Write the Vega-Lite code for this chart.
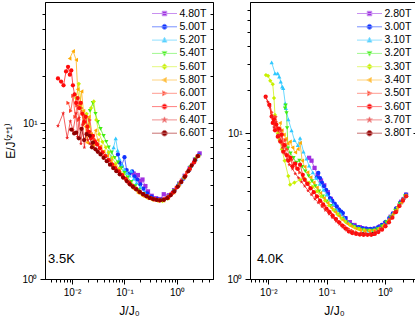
{
"$schema":"https://vega.github.io/schema/vega-lite/v6.json",
"padding":{"left":4,"top":1,"right":0,"bottom":0},
"spacing":12,
"config":{"font":"Liberation Sans","view":{"stroke":"#000","strokeWidth":1},
"axis":{"grid":false,"domainColor":"#000","tickColor":"#000","labelColor":"#000","titleColor":"#000","labelFontSize":10,"titleFontSize":12,"titleFontWeight":"normal","labelOverlap":false,"labelFlush":false,"tickWidth":1,"domainWidth":1},
"legend":{"orient":"top-right","offset":6,"padding":0,"rowPadding":2.3,"labelFontSize":10.5,"labelOffset":9.5,"symbolSize":100,"symbolStrokeWidth":1,"labelColor":"#000"}},
"datasets":{
"LT":[{"x":0.0035,"y":1.34,"t":"3.5K"}],
"RT":[{"x":0.0064,"y":1.37,"t":"4.0K"}],
"L":[
{"s":"4.80T","x":0.15,"y":4.75},{"s":"4.80T","x":0.165,"y":4.55},{"s":"4.80T","x":0.18,"y":4.65},{"s":"4.80T","x":0.2,"y":4.25},{"s":"4.80T","x":0.22,"y":4.35},{"s":"4.80T","x":0.25,"y":3.95},{"s":"4.80T","x":0.28,"y":3.65},{"s":"4.80T","x":0.33,"y":3.42},{"s":"4.80T","x":0.4,"y":3.3},{"s":"4.80T","x":0.48,"y":3.26},{"s":"4.80T","x":0.56,"y":3.5},{"s":"4.80T","x":0.7,"y":3.45},{"s":"4.80T","x":0.88,"y":3.72},{"s":"4.80T","x":1.1,"y":4.1},{"s":"4.80T","x":1.4,"y":4.6},{"s":"4.80T","x":1.75,"y":5.15},{"s":"4.80T","x":2.2,"y":5.85},{"s":"4.80T","x":2.7,"y":6.4},
{"s":"5.00T","x":0.075,"y":6.3},{"s":"5.00T","x":0.08,"y":5.6},{"s":"5.00T","x":0.088,"y":5.3},{"s":"5.00T","x":0.1,"y":6.05},{"s":"5.00T","x":0.11,"y":5.0},{"s":"5.00T","x":0.125,"y":4.75},{"s":"5.00T","x":0.14,"y":4.9},{"s":"5.00T","x":0.155,"y":4.55},{"s":"5.00T","x":0.175,"y":4.35},{"s":"5.00T","x":0.2,"y":4.05},{"s":"5.00T","x":0.23,"y":3.8},{"s":"5.00T","x":0.27,"y":3.55},{"s":"5.00T","x":0.33,"y":3.38},{"s":"5.00T","x":0.42,"y":3.26},{"s":"5.00T","x":0.52,"y":3.23},{"s":"5.00T","x":0.66,"y":3.33},{"s":"5.00T","x":0.83,"y":3.6},{"s":"5.00T","x":1.05,"y":3.98},{"s":"5.00T","x":1.32,"y":4.4},{"s":"5.00T","x":1.7,"y":5.0},{"s":"5.00T","x":2.1,"y":5.6},{"s":"5.00T","x":2.6,"y":6.25},
{"s":"5.20T","x":0.045,"y":6.2},{"s":"5.20T","x":0.05,"y":6.6},{"s":"5.20T","x":0.056,"y":6.0},{"s":"5.20T","x":0.062,"y":7.0},{"s":"5.20T","x":0.068,"y":8.0},{"s":"5.20T","x":0.074,"y":6.7},{"s":"5.20T","x":0.08,"y":5.9},{"s":"5.20T","x":0.09,"y":5.4},{"s":"5.20T","x":0.1,"y":5.05},{"s":"5.20T","x":0.112,"y":4.8},{"s":"5.20T","x":0.125,"y":4.6},{"s":"5.20T","x":0.135,"y":4.95},{"s":"5.20T","x":0.15,"y":4.4},{"s":"5.20T","x":0.17,"y":4.15},{"s":"5.20T","x":0.2,"y":3.9},{"s":"5.20T","x":0.24,"y":3.62},{"s":"5.20T","x":0.29,"y":3.42},{"s":"5.20T","x":0.36,"y":3.29},{"s":"5.20T","x":0.45,"y":3.23},{"s":"5.20T","x":0.57,"y":3.25},{"s":"5.20T","x":0.72,"y":3.45},{"s":"5.20T","x":0.92,"y":3.78},{"s":"5.20T","x":1.15,"y":4.15},{"s":"5.20T","x":1.45,"y":4.65},{"s":"5.20T","x":1.85,"y":5.3},{"s":"5.20T","x":2.3,"y":5.9},
{"s":"5.40T","x":0.022,"y":12.0},{"s":"5.40T","x":0.025,"y":13.5},{"s":"5.40T","x":0.028,"y":11.5},{"s":"5.40T","x":0.031,"y":10.2},{"s":"5.40T","x":0.035,"y":9.2},{"s":"5.40T","x":0.04,"y":8.3},{"s":"5.40T","x":0.045,"y":7.6},{"s":"5.40T","x":0.05,"y":7.0},{"s":"5.40T","x":0.057,"y":6.5},{"s":"5.40T","x":0.065,"y":6.0},{"s":"5.40T","x":0.075,"y":5.6},{"s":"5.40T","x":0.087,"y":5.15},{"s":"5.40T","x":0.1,"y":4.8},{"s":"5.40T","x":0.115,"y":4.5},{"s":"5.40T","x":0.135,"y":4.2},{"s":"5.40T","x":0.16,"y":3.95},{"s":"5.40T","x":0.19,"y":3.72},{"s":"5.40T","x":0.23,"y":3.52},{"s":"5.40T","x":0.28,"y":3.37},{"s":"5.40T","x":0.35,"y":3.26},{"s":"5.40T","x":0.44,"y":3.21},{"s":"5.40T","x":0.55,"y":3.21},{"s":"5.40T","x":0.7,"y":3.38},{"s":"5.40T","x":0.88,"y":3.68},{"s":"5.40T","x":1.1,"y":4.05},{"s":"5.40T","x":1.4,"y":4.55},{"s":"5.40T","x":1.8,"y":5.2},{"s":"5.40T","x":2.3,"y":5.9},
{"s":"5.60T","x":0.012,"y":14.5},{"s":"5.60T","x":0.0135,"y":17.9},{"s":"5.60T","x":0.015,"y":12.5},{"s":"5.60T","x":0.017,"y":10.0},{"s":"5.60T","x":0.019,"y":11.5},{"s":"5.60T","x":0.021,"y":9.5},{"s":"5.60T","x":0.023,"y":12.5},{"s":"5.60T","x":0.026,"y":13.8},{"s":"5.60T","x":0.029,"y":10.5},{"s":"5.60T","x":0.033,"y":8.5},{"s":"5.60T","x":0.038,"y":7.6},{"s":"5.60T","x":0.044,"y":7.0},{"s":"5.60T","x":0.05,"y":6.5},{"s":"5.60T","x":0.058,"y":6.0},{"s":"5.60T","x":0.068,"y":5.5},{"s":"5.60T","x":0.08,"y":5.1},{"s":"5.60T","x":0.095,"y":4.7},{"s":"5.60T","x":0.11,"y":4.4},{"s":"5.60T","x":0.13,"y":4.1},{"s":"5.60T","x":0.155,"y":3.85},{"s":"5.60T","x":0.185,"y":3.64},{"s":"5.60T","x":0.22,"y":3.47},{"s":"5.60T","x":0.27,"y":3.34},{"s":"5.60T","x":0.34,"y":3.24},{"s":"5.60T","x":0.43,"y":3.18},{"s":"5.60T","x":0.53,"y":3.16},{"s":"5.60T","x":0.67,"y":3.28},{"s":"5.60T","x":0.85,"y":3.58},{"s":"5.60T","x":1.07,"y":3.98},{"s":"5.60T","x":1.35,"y":4.45},{"s":"5.60T","x":1.72,"y":5.05},{"s":"5.60T","x":2.2,"y":5.8},{"s":"5.60T","x":2.6,"y":6.2},
{"s":"5.80T","x":0.009,"y":26},{"s":"5.80T","x":0.0105,"y":29},{"s":"5.80T","x":0.012,"y":25.5},{"s":"5.80T","x":0.0128,"y":16.5},{"s":"5.80T","x":0.014,"y":13},{"s":"5.80T","x":0.0152,"y":16},{"s":"5.80T","x":0.0165,"y":12},{"s":"5.80T","x":0.018,"y":9.5},{"s":"5.80T","x":0.0195,"y":7.5},{"s":"5.80T","x":0.021,"y":11},{"s":"5.80T","x":0.023,"y":8.5},{"s":"5.80T","x":0.025,"y":7.2},{"s":"5.80T","x":0.028,"y":9.0},{"s":"5.80T","x":0.031,"y":7.8},{"s":"5.80T","x":0.035,"y":7.1},{"s":"5.80T","x":0.04,"y":6.6},{"s":"5.80T","x":0.047,"y":6.2},{"s":"5.80T","x":0.055,"y":5.75},{"s":"5.80T","x":0.065,"y":5.35},{"s":"5.80T","x":0.077,"y":4.95},{"s":"5.80T","x":0.09,"y":4.6},{"s":"5.80T","x":0.106,"y":4.3},{"s":"5.80T","x":0.125,"y":4.02},{"s":"5.80T","x":0.15,"y":3.78},{"s":"5.80T","x":0.18,"y":3.57},{"s":"5.80T","x":0.22,"y":3.42},{"s":"5.80T","x":0.27,"y":3.3},{"s":"5.80T","x":0.34,"y":3.22},{"s":"5.80T","x":0.43,"y":3.17},{"s":"5.80T","x":0.55,"y":3.18},{"s":"5.80T","x":0.68,"y":3.3},{"s":"5.80T","x":0.86,"y":3.6},{"s":"5.80T","x":1.08,"y":4.0},{"s":"5.80T","x":1.36,"y":4.47},{"s":"5.80T","x":1.72,"y":5.07},{"s":"5.80T","x":2.15,"y":5.7},{"s":"5.80T","x":2.55,"y":6.15},
{"s":"6.00T","x":0.0085,"y":13.5},{"s":"6.00T","x":0.0095,"y":12.0},{"s":"6.00T","x":0.0105,"y":15.0},{"s":"6.00T","x":0.0115,"y":11.0},{"s":"6.00T","x":0.0125,"y":13.0},{"s":"6.00T","x":0.0135,"y":10.5},{"s":"6.00T","x":0.015,"y":12.5},{"s":"6.00T","x":0.0165,"y":9.8},{"s":"6.00T","x":0.018,"y":11.2},{"s":"6.00T","x":0.02,"y":9.0},{"s":"6.00T","x":0.022,"y":10.5},{"s":"6.00T","x":0.024,"y":8.4},{"s":"6.00T","x":0.027,"y":7.9},{"s":"6.00T","x":0.03,"y":7.5},{"s":"6.00T","x":0.034,"y":7.0},{"s":"6.00T","x":0.039,"y":6.5},{"s":"6.00T","x":0.045,"y":6.1},{"s":"6.00T","x":0.052,"y":5.75},{"s":"6.00T","x":0.06,"y":5.45},{"s":"6.00T","x":0.07,"y":5.1},{"s":"6.00T","x":0.082,"y":4.85},{"s":"6.00T","x":0.097,"y":4.55},{"s":"6.00T","x":0.115,"y":4.3},{"s":"6.00T","x":0.137,"y":4.05},{"s":"6.00T","x":0.165,"y":3.82},{"s":"6.00T","x":0.2,"y":3.64},{"s":"6.00T","x":0.25,"y":3.45},{"s":"6.00T","x":0.31,"y":3.32},{"s":"6.00T","x":0.39,"y":3.24},{"s":"6.00T","x":0.5,"y":3.2},{"s":"6.00T","x":0.62,"y":3.28},{"s":"6.00T","x":0.78,"y":3.5},{"s":"6.00T","x":0.98,"y":3.85},{"s":"6.00T","x":1.23,"y":4.3},{"s":"6.00T","x":1.55,"y":4.8},{"s":"6.00T","x":1.95,"y":5.4},{"s":"6.00T","x":2.45,"y":6.1},
{"s":"6.20T","x":0.0054,"y":19.4},{"s":"6.20T","x":0.0062,"y":18.5},{"s":"6.20T","x":0.0069,"y":17.5},{"s":"6.20T","x":0.0077,"y":21.5},{"s":"6.20T","x":0.0084,"y":23},{"s":"6.20T","x":0.0091,"y":20.5},{"s":"6.20T","x":0.0097,"y":21.8},{"s":"6.20T","x":0.0104,"y":17.5},{"s":"6.20T","x":0.0112,"y":15.3},{"s":"6.20T","x":0.012,"y":13.5},{"s":"6.20T","x":0.0128,"y":14.5},{"s":"6.20T","x":0.0137,"y":12.5},{"s":"6.20T","x":0.0147,"y":13.5},{"s":"6.20T","x":0.0158,"y":11.5},{"s":"6.20T","x":0.017,"y":10.2},{"s":"6.20T","x":0.0183,"y":11.0},{"s":"6.20T","x":0.0197,"y":9.5},{"s":"6.20T","x":0.021,"y":8.8},{"s":"6.20T","x":0.023,"y":8.0},{"s":"6.20T","x":0.025,"y":8.3},{"s":"6.20T","x":0.0275,"y":7.6},{"s":"6.20T","x":0.03,"y":7.3},{"s":"6.20T","x":0.034,"y":6.9},{"s":"6.20T","x":0.038,"y":6.5},{"s":"6.20T","x":0.043,"y":6.15},{"s":"6.20T","x":0.05,"y":5.8},{"s":"6.20T","x":0.058,"y":5.45},{"s":"6.20T","x":0.067,"y":5.15},{"s":"6.20T","x":0.078,"y":4.9},{"s":"6.20T","x":0.09,"y":4.65},{"s":"6.20T","x":0.105,"y":4.4},{"s":"6.20T","x":0.122,"y":4.15},{"s":"6.20T","x":0.142,"y":3.95},{"s":"6.20T","x":0.165,"y":3.8},{"s":"6.20T","x":0.195,"y":3.63},{"s":"6.20T","x":0.23,"y":3.5},{"s":"6.20T","x":0.27,"y":3.4},{"s":"6.20T","x":0.32,"y":3.3},{"s":"6.20T","x":0.38,"y":3.24},{"s":"6.20T","x":0.46,"y":3.2},{"s":"6.20T","x":0.56,"y":3.24},{"s":"6.20T","x":0.68,"y":3.35},{"s":"6.20T","x":0.83,"y":3.58},{"s":"6.20T","x":1.0,"y":3.88},{"s":"6.20T","x":1.2,"y":4.2},{"s":"6.20T","x":1.45,"y":4.6},{"s":"6.20T","x":1.75,"y":5.1},{"s":"6.20T","x":2.1,"y":5.6},{"s":"6.20T","x":2.5,"y":6.15},
{"s":"6.40T","x":0.0054,"y":9.6},{"s":"6.40T","x":0.0068,"y":11.6},{"s":"6.40T","x":0.0081,"y":8.05},{"s":"6.40T","x":0.0093,"y":10.3},{"s":"6.40T","x":0.0105,"y":9.0},{"s":"6.40T","x":0.012,"y":11.6},{"s":"6.40T","x":0.0128,"y":8.2},{"s":"6.40T","x":0.0137,"y":10.8},{"s":"6.40T","x":0.0148,"y":7.4},{"s":"6.40T","x":0.016,"y":9.8},{"s":"6.40T","x":0.0172,"y":7.0},{"s":"6.40T","x":0.0185,"y":8.6},{"s":"6.40T","x":0.02,"y":7.8},{"s":"6.40T","x":0.022,"y":7.4},{"s":"6.40T","x":0.024,"y":7.1},{"s":"6.40T","x":0.027,"y":6.9},{"s":"6.40T","x":0.03,"y":6.7},{"s":"6.40T","x":0.034,"y":6.4},{"s":"6.40T","x":0.039,"y":6.1},{"s":"6.40T","x":0.045,"y":5.75},{"s":"6.40T","x":0.052,"y":5.45},{"s":"6.40T","x":0.06,"y":5.2},{"s":"6.40T","x":0.07,"y":4.95},{"s":"6.40T","x":0.082,"y":4.7},{"s":"6.40T","x":0.096,"y":4.45},{"s":"6.40T","x":0.113,"y":4.2},{"s":"6.40T","x":0.133,"y":4.0},{"s":"6.40T","x":0.157,"y":3.83},{"s":"6.40T","x":0.185,"y":3.68},{"s":"6.40T","x":0.22,"y":3.53},{"s":"6.40T","x":0.26,"y":3.42},{"s":"6.40T","x":0.31,"y":3.31},{"s":"6.40T","x":0.37,"y":3.25},{"s":"6.40T","x":0.44,"y":3.21},{"s":"6.40T","x":0.53,"y":3.22},{"s":"6.40T","x":0.64,"y":3.32},{"s":"6.40T","x":0.77,"y":3.5},{"s":"6.40T","x":0.93,"y":3.75},{"s":"6.40T","x":1.12,"y":4.08},{"s":"6.40T","x":1.35,"y":4.5},{"s":"6.40T","x":1.63,"y":4.95},{"s":"6.40T","x":1.97,"y":5.45},{"s":"6.40T","x":2.4,"y":6.05},
{"s":"6.60T","x":0.0097,"y":9.1},{"s":"6.60T","x":0.011,"y":8.6},{"s":"6.60T","x":0.012,"y":8.7},{"s":"6.60T","x":0.0135,"y":8.0},{"s":"6.60T","x":0.0152,"y":9.2},{"s":"6.60T","x":0.017,"y":7.8},{"s":"6.60T","x":0.019,"y":8.5},{"s":"6.60T","x":0.0218,"y":8.3},{"s":"6.60T","x":0.024,"y":7.0},{"s":"6.60T","x":0.025,"y":7.5},{"s":"6.60T","x":0.028,"y":6.8},{"s":"6.60T","x":0.031,"y":6.55},{"s":"6.60T","x":0.035,"y":6.3},{"s":"6.60T","x":0.04,"y":6.0},{"s":"6.60T","x":0.046,"y":5.7},{"s":"6.60T","x":0.053,"y":5.42},{"s":"6.60T","x":0.061,"y":5.15},{"s":"6.60T","x":0.07,"y":4.92},{"s":"6.60T","x":0.081,"y":4.7},{"s":"6.60T","x":0.094,"y":4.48},{"s":"6.60T","x":0.11,"y":4.25},{"s":"6.60T","x":0.126,"y":4.05},{"s":"6.60T","x":0.145,"y":3.9},{"s":"6.60T","x":0.168,"y":3.76},{"s":"6.60T","x":0.195,"y":3.62},{"s":"6.60T","x":0.225,"y":3.5},{"s":"6.60T","x":0.26,"y":3.4},{"s":"6.60T","x":0.3,"y":3.32},{"s":"6.60T","x":0.35,"y":3.26},{"s":"6.60T","x":0.41,"y":3.22},{"s":"6.60T","x":0.48,"y":3.2},{"s":"6.60T","x":0.56,"y":3.22},{"s":"6.60T","x":0.65,"y":3.3},{"s":"6.60T","x":0.76,"y":3.45},{"s":"6.60T","x":0.89,"y":3.65},{"s":"6.60T","x":1.04,"y":3.92},{"s":"6.60T","x":1.21,"y":4.2},{"s":"6.60T","x":1.41,"y":4.53},{"s":"6.60T","x":1.64,"y":4.92},{"s":"6.60T","x":1.9,"y":5.35},{"s":"6.60T","x":2.2,"y":5.8},{"s":"6.60T","x":2.5,"y":6.15}
],
"R":[
{"s":"3.80T","x":0.27,"y":2.1},{"s":"3.80T","x":0.42,"y":2.03},{"s":"3.80T","x":0.62,"y":2.04},
{"s":"2.80T","x":0.05,"y":6.8},{"s":"2.80T","x":0.055,"y":6.5},{"s":"2.80T","x":0.062,"y":5.8},{"s":"2.80T","x":0.07,"y":5.2},{"s":"2.80T","x":0.08,"y":4.75},{"s":"2.80T","x":0.091,"y":4.4},{"s":"2.80T","x":0.105,"y":3.95},{"s":"2.80T","x":0.118,"y":3.55},{"s":"2.80T","x":0.135,"y":3.25},{"s":"2.80T","x":0.155,"y":3.0},{"s":"2.80T","x":0.18,"y":2.8},{"s":"2.80T","x":0.21,"y":2.62},{"s":"2.80T","x":0.25,"y":2.46},{"s":"2.80T","x":0.3,"y":2.35},{"s":"2.80T","x":0.37,"y":2.27},{"s":"2.80T","x":0.45,"y":2.22},{"s":"2.80T","x":0.55,"y":2.2},{"s":"2.80T","x":0.67,"y":2.22},{"s":"2.80T","x":0.82,"y":2.3},{"s":"2.80T","x":1.0,"y":2.42},{"s":"2.80T","x":1.25,"y":2.68},{"s":"2.80T","x":1.55,"y":3.02},{"s":"2.80T","x":1.9,"y":3.4},{"s":"2.80T","x":2.3,"y":3.8},
{"s":"3.00T","x":0.068,"y":5.0},{"s":"3.00T","x":0.072,"y":5.35},{"s":"3.00T","x":0.077,"y":4.94},{"s":"3.00T","x":0.083,"y":4.6},{"s":"3.00T","x":0.09,"y":4.35},{"s":"3.00T","x":0.098,"y":4.1},{"s":"3.00T","x":0.106,"y":3.85},{"s":"3.00T","x":0.114,"y":3.6},{"s":"3.00T","x":0.125,"y":3.45},{"s":"3.00T","x":0.137,"y":3.3},{"s":"3.00T","x":0.149,"y":3.16},{"s":"3.00T","x":0.163,"y":3.0},{"s":"3.00T","x":0.178,"y":2.9},{"s":"3.00T","x":0.19,"y":2.84},{"s":"3.00T","x":0.21,"y":2.62},{"s":"3.00T","x":0.235,"y":2.43},{"s":"3.00T","x":0.27,"y":2.35},{"s":"3.00T","x":0.31,"y":2.3},{"s":"3.00T","x":0.35,"y":2.27},{"s":"3.00T","x":0.41,"y":2.24},{"s":"3.00T","x":0.48,"y":2.22},{"s":"3.00T","x":0.56,"y":2.21},{"s":"3.00T","x":0.65,"y":2.22},{"s":"3.00T","x":0.76,"y":2.27},{"s":"3.00T","x":0.88,"y":2.35},{"s":"3.00T","x":1.02,"y":2.47},{"s":"3.00T","x":1.18,"y":2.62},{"s":"3.00T","x":1.36,"y":2.82},{"s":"3.00T","x":1.57,"y":3.07},{"s":"3.00T","x":1.82,"y":3.35},{"s":"3.00T","x":2.05,"y":3.55},{"s":"3.00T","x":2.29,"y":3.8},
{"s":"3.10T","x":0.0114,"y":30.8},{"s":"3.10T","x":0.013,"y":25.9},{"s":"3.10T","x":0.0145,"y":25.9},{"s":"3.10T","x":0.0154,"y":24.6},{"s":"3.10T","x":0.0163,"y":22.7},{"s":"3.10T","x":0.0173,"y":21.0},{"s":"3.10T","x":0.018,"y":20.5},{"s":"3.10T","x":0.0195,"y":16.1},{"s":"3.10T","x":0.02,"y":14.9},{"s":"3.10T","x":0.022,"y":12.5},{"s":"3.10T","x":0.025,"y":10.5},{"s":"3.10T","x":0.028,"y":9.0},{"s":"3.10T","x":0.032,"y":8.3},{"s":"3.10T","x":0.035,"y":9.3},{"s":"3.10T","x":0.04,"y":7.5},{"s":"3.10T","x":0.045,"y":6.7},{"s":"3.10T","x":0.05,"y":6.0},{"s":"3.10T","x":0.058,"y":5.4},{"s":"3.10T","x":0.066,"y":4.95},{"s":"3.10T","x":0.076,"y":4.5},{"s":"3.10T","x":0.088,"y":4.1},{"s":"3.10T","x":0.1,"y":3.8},{"s":"3.10T","x":0.115,"y":3.5},{"s":"3.10T","x":0.13,"y":3.25},{"s":"3.10T","x":0.15,"y":3.0},{"s":"3.10T","x":0.175,"y":2.8},{"s":"3.10T","x":0.2,"y":2.62},{"s":"3.10T","x":0.24,"y":2.45},{"s":"3.10T","x":0.29,"y":2.32},{"s":"3.10T","x":0.35,"y":2.24},{"s":"3.10T","x":0.43,"y":2.18},{"s":"3.10T","x":0.52,"y":2.15},{"s":"3.10T","x":0.63,"y":2.17},{"s":"3.10T","x":0.78,"y":2.23},{"s":"3.10T","x":0.95,"y":2.36},{"s":"3.10T","x":1.15,"y":2.57},{"s":"3.10T","x":1.4,"y":2.85},{"s":"3.10T","x":1.75,"y":3.25},{"s":"3.10T","x":2.1,"y":3.6},
{"s":"3.20T","x":0.0193,"y":14.9},{"s":"3.20T","x":0.0198,"y":15.6},{"s":"3.20T","x":0.0205,"y":13.8},{"s":"3.20T","x":0.021,"y":10.9},{"s":"3.20T","x":0.0217,"y":7.9},{"s":"3.20T","x":0.024,"y":7.3},{"s":"3.20T","x":0.027,"y":6.8},{"s":"3.20T","x":0.03,"y":6.3},{"s":"3.20T","x":0.034,"y":6.5},{"s":"3.20T","x":0.038,"y":5.9},{"s":"3.20T","x":0.043,"y":5.5},{"s":"3.20T","x":0.049,"y":5.1},{"s":"3.20T","x":0.056,"y":4.7},{"s":"3.20T","x":0.064,"y":4.35},{"s":"3.20T","x":0.074,"y":4.0},{"s":"3.20T","x":0.086,"y":3.7},{"s":"3.20T","x":0.1,"y":3.42},{"s":"3.20T","x":0.116,"y":3.18},{"s":"3.20T","x":0.135,"y":2.96},{"s":"3.20T","x":0.157,"y":2.78},{"s":"3.20T","x":0.183,"y":2.6},{"s":"3.20T","x":0.215,"y":2.46},{"s":"3.20T","x":0.255,"y":2.35},{"s":"3.20T","x":0.3,"y":2.27},{"s":"3.20T","x":0.36,"y":2.21},{"s":"3.20T","x":0.43,"y":2.17},{"s":"3.20T","x":0.52,"y":2.15},{"s":"3.20T","x":0.62,"y":2.15},{"s":"3.20T","x":0.74,"y":2.2},{"s":"3.20T","x":0.88,"y":2.3},{"s":"3.20T","x":1.05,"y":2.45},{"s":"3.20T","x":1.25,"y":2.65},{"s":"3.20T","x":1.5,"y":2.95},{"s":"3.20T","x":1.8,"y":3.3},{"s":"3.20T","x":2.2,"y":3.7},
{"s":"3.30T","x":0.0091,"y":25.2},{"s":"3.30T","x":0.0099,"y":24.9},{"s":"3.30T","x":0.0108,"y":23.0},{"s":"3.30T","x":0.0119,"y":21.8},{"s":"3.30T","x":0.0125,"y":17.5},{"s":"3.30T","x":0.013,"y":13.4},{"s":"3.30T","x":0.0137,"y":11.5},{"s":"3.30T","x":0.0145,"y":10.0},{"s":"3.30T","x":0.0155,"y":9.0},{"s":"3.30T","x":0.017,"y":7.8},{"s":"3.30T","x":0.019,"y":6.5},{"s":"3.30T","x":0.022,"y":5.1},{"s":"3.30T","x":0.0236,"y":4.45},{"s":"3.30T","x":0.028,"y":4.6},{"s":"3.30T","x":0.035,"y":4.8},{"s":"3.30T","x":0.042,"y":4.9},{"s":"3.30T","x":0.05,"y":4.6},{"s":"3.30T","x":0.058,"y":4.3},{"s":"3.30T","x":0.068,"y":4.0},{"s":"3.30T","x":0.08,"y":3.7},{"s":"3.30T","x":0.094,"y":3.45},{"s":"3.30T","x":0.11,"y":3.2},{"s":"3.30T","x":0.13,"y":2.98},{"s":"3.30T","x":0.153,"y":2.78},{"s":"3.30T","x":0.18,"y":2.6},{"s":"3.30T","x":0.21,"y":2.47},{"s":"3.30T","x":0.25,"y":2.35},{"s":"3.30T","x":0.3,"y":2.26},{"s":"3.30T","x":0.36,"y":2.2},{"s":"3.30T","x":0.44,"y":2.16},{"s":"3.30T","x":0.55,"y":2.15},{"s":"3.30T","x":0.66,"y":2.16},{"s":"3.30T","x":0.8,"y":2.22},{"s":"3.30T","x":0.96,"y":2.34},{"s":"3.30T","x":1.15,"y":2.52},{"s":"3.30T","x":1.38,"y":2.78},{"s":"3.30T","x":1.65,"y":3.1},{"s":"3.30T","x":2.0,"y":3.48},{"s":"3.30T","x":2.3,"y":3.75},
{"s":"3.40T","x":0.0158,"y":11.8},{"s":"3.40T","x":0.017,"y":10.5},{"s":"3.40T","x":0.0185,"y":9.8},{"s":"3.40T","x":0.02,"y":9.2},{"s":"3.40T","x":0.0215,"y":8.5},{"s":"3.40T","x":0.0235,"y":8.8},{"s":"3.40T","x":0.026,"y":8.0},{"s":"3.40T","x":0.029,"y":7.4},{"s":"3.40T","x":0.032,"y":7.8},{"s":"3.40T","x":0.035,"y":8.6},{"s":"3.40T","x":0.038,"y":6.5},{"s":"3.40T","x":0.042,"y":5.9},{"s":"3.40T","x":0.047,"y":5.4},{"s":"3.40T","x":0.053,"y":5.0},{"s":"3.40T","x":0.06,"y":4.6},{"s":"3.40T","x":0.068,"y":4.25},{"s":"3.40T","x":0.078,"y":3.9},{"s":"3.40T","x":0.09,"y":3.6},{"s":"3.40T","x":0.104,"y":3.33},{"s":"3.40T","x":0.12,"y":3.08},{"s":"3.40T","x":0.14,"y":2.88},{"s":"3.40T","x":0.163,"y":2.7},{"s":"3.40T","x":0.19,"y":2.54},{"s":"3.40T","x":0.225,"y":2.4},{"s":"3.40T","x":0.265,"y":2.3},{"s":"3.40T","x":0.315,"y":2.22},{"s":"3.40T","x":0.375,"y":2.17},{"s":"3.40T","x":0.45,"y":2.14},{"s":"3.40T","x":0.54,"y":2.13},{"s":"3.40T","x":0.65,"y":2.15},{"s":"3.40T","x":0.78,"y":2.2},{"s":"3.40T","x":0.93,"y":2.3},{"s":"3.40T","x":1.1,"y":2.45},{"s":"3.40T","x":1.32,"y":2.68},{"s":"3.40T","x":1.58,"y":2.98},{"s":"3.40T","x":1.9,"y":3.35},{"s":"3.40T","x":2.25,"y":3.72},
{"s":"3.50T","x":0.0105,"y":16.0},{"s":"3.50T","x":0.0115,"y":14.0},{"s":"3.50T","x":0.0125,"y":12.0},{"s":"3.50T","x":0.0135,"y":13.0},{"s":"3.50T","x":0.0145,"y":11.0},{"s":"3.50T","x":0.0155,"y":9.5},{"s":"3.50T","x":0.0168,"y":10.5},{"s":"3.50T","x":0.018,"y":8.5},{"s":"3.50T","x":0.0195,"y":9.0},{"s":"3.50T","x":0.021,"y":7.8},{"s":"3.50T","x":0.023,"y":7.0},{"s":"3.50T","x":0.0255,"y":6.6},{"s":"3.50T","x":0.028,"y":6.2},{"s":"3.50T","x":0.031,"y":5.8},{"s":"3.50T","x":0.035,"y":5.4},{"s":"3.50T","x":0.04,"y":5.0},{"s":"3.50T","x":0.046,"y":4.6},{"s":"3.50T","x":0.053,"y":4.25},{"s":"3.50T","x":0.061,"y":3.95},{"s":"3.50T","x":0.07,"y":3.68},{"s":"3.50T","x":0.081,"y":3.42},{"s":"3.50T","x":0.094,"y":3.18},{"s":"3.50T","x":0.109,"y":2.97},{"s":"3.50T","x":0.126,"y":2.78},{"s":"3.50T","x":0.146,"y":2.6},{"s":"3.50T","x":0.17,"y":2.46},{"s":"3.50T","x":0.2,"y":2.33},{"s":"3.50T","x":0.235,"y":2.22},{"s":"3.50T","x":0.28,"y":2.14},{"s":"3.50T","x":0.33,"y":2.09},{"s":"3.50T","x":0.4,"y":2.06},{"s":"3.50T","x":0.48,"y":2.05},{"s":"3.50T","x":0.58,"y":2.05},{"s":"3.50T","x":0.7,"y":2.1},{"s":"3.50T","x":0.85,"y":2.2},{"s":"3.50T","x":1.02,"y":2.35},{"s":"3.50T","x":1.22,"y":2.56},{"s":"3.50T","x":1.46,"y":2.85},{"s":"3.50T","x":1.75,"y":3.2},{"s":"3.50T","x":2.1,"y":3.55},{"s":"3.50T","x":2.35,"y":3.7},
{"s":"3.60T","x":0.009,"y":17.9},{"s":"3.60T","x":0.0104,"y":15.7},{"s":"3.60T","x":0.0114,"y":13.1},{"s":"3.60T","x":0.0119,"y":11.8},{"s":"3.60T","x":0.0125,"y":12.5},{"s":"3.60T","x":0.013,"y":10.5},{"s":"3.60T","x":0.0137,"y":11.5},{"s":"3.60T","x":0.0145,"y":9.5},{"s":"3.60T","x":0.0152,"y":10.8},{"s":"3.60T","x":0.016,"y":8.8},{"s":"3.60T","x":0.017,"y":9.8},{"s":"3.60T","x":0.018,"y":7.5},{"s":"3.60T","x":0.019,"y":8.3},{"s":"3.60T","x":0.0205,"y":7.1},{"s":"3.60T","x":0.022,"y":6.5},{"s":"3.60T","x":0.024,"y":6.8},{"s":"3.60T","x":0.026,"y":5.95},{"s":"3.60T","x":0.029,"y":6.2},{"s":"3.60T","x":0.032,"y":5.7},{"s":"3.60T","x":0.035,"y":6.1},{"s":"3.60T","x":0.039,"y":5.2},{"s":"3.60T","x":0.042,"y":4.8},{"s":"3.60T","x":0.047,"y":4.5},{"s":"3.60T","x":0.053,"y":4.2},{"s":"3.60T","x":0.06,"y":3.95},{"s":"3.60T","x":0.068,"y":3.7},{"s":"3.60T","x":0.077,"y":3.45},{"s":"3.60T","x":0.087,"y":3.25},{"s":"3.60T","x":0.099,"y":3.05},{"s":"3.60T","x":0.112,"y":2.88},{"s":"3.60T","x":0.127,"y":2.72},{"s":"3.60T","x":0.144,"y":2.58},{"s":"3.60T","x":0.163,"y":2.45},{"s":"3.60T","x":0.185,"y":2.33},{"s":"3.60T","x":0.21,"y":2.22},{"s":"3.60T","x":0.24,"y":2.12},{"s":"3.60T","x":0.275,"y":2.07},{"s":"3.60T","x":0.32,"y":2.04},{"s":"3.60T","x":0.37,"y":2.02},{"s":"3.60T","x":0.43,"y":2.01},{"s":"3.60T","x":0.5,"y":2.01},{"s":"3.60T","x":0.58,"y":2.01},{"s":"3.60T","x":0.67,"y":2.04},{"s":"3.60T","x":0.77,"y":2.1},{"s":"3.60T","x":0.89,"y":2.18},{"s":"3.60T","x":1.02,"y":2.3},{"s":"3.60T","x":1.17,"y":2.45},{"s":"3.60T","x":1.34,"y":2.64},{"s":"3.60T","x":1.54,"y":2.88},{"s":"3.60T","x":1.77,"y":3.17},{"s":"3.60T","x":2.03,"y":3.45},{"s":"3.60T","x":2.3,"y":3.7},
{"s":"3.70T","x":0.009,"y":17.7},{"s":"3.70T","x":0.0098,"y":16.5},{"s":"3.70T","x":0.0106,"y":15.2},{"s":"3.70T","x":0.0115,"y":13.0},{"s":"3.70T","x":0.0125,"y":11.0},{"s":"3.70T","x":0.0135,"y":12.0},{"s":"3.70T","x":0.0147,"y":9.8},{"s":"3.70T","x":0.016,"y":9.0},{"s":"3.70T","x":0.0175,"y":8.0},{"s":"3.70T","x":0.019,"y":7.3},{"s":"3.70T","x":0.021,"y":6.6},{"s":"3.70T","x":0.023,"y":6.1},{"s":"3.70T","x":0.026,"y":5.7},{"s":"3.70T","x":0.029,"y":5.3},{"s":"3.70T","x":0.033,"y":4.95},{"s":"3.70T","x":0.037,"y":4.65},{"s":"3.70T","x":0.042,"y":4.35},{"s":"3.70T","x":0.048,"y":4.05},{"s":"3.70T","x":0.055,"y":3.8},{"s":"3.70T","x":0.063,"y":3.55},{"s":"3.70T","x":0.072,"y":3.35},{"s":"3.70T","x":0.083,"y":3.15},{"s":"3.70T","x":0.095,"y":2.97},{"s":"3.70T","x":0.11,"y":2.8},{"s":"3.70T","x":0.126,"y":2.64},{"s":"3.70T","x":0.145,"y":2.5},{"s":"3.70T","x":0.167,"y":2.38},{"s":"3.70T","x":0.19,"y":2.27},{"s":"3.70T","x":0.22,"y":2.17},{"s":"3.70T","x":0.25,"y":2.1},{"s":"3.70T","x":0.29,"y":2.06},{"s":"3.70T","x":0.34,"y":2.03},{"s":"3.70T","x":0.4,"y":2.02},{"s":"3.70T","x":0.47,"y":2.02},{"s":"3.70T","x":0.55,"y":2.02},{"s":"3.70T","x":0.64,"y":2.05},{"s":"3.70T","x":0.75,"y":2.11},{"s":"3.70T","x":0.87,"y":2.2},{"s":"3.70T","x":1.0,"y":2.3},{"s":"3.70T","x":1.16,"y":2.46},{"s":"3.70T","x":1.35,"y":2.67},{"s":"3.70T","x":1.57,"y":2.93},{"s":"3.70T","x":1.82,"y":3.22},{"s":"3.70T","x":2.1,"y":3.5},{"s":"3.70T","x":2.35,"y":3.68}
]},
"hconcat":[
{"width":168,"height":277,
"layer":[
{"data":{"name":"L"},"mark":{"type":"line","strokeWidth":0.9,"opacity":0.8,"clip":true},
"encoding":{
"x":{"field":"x","type":"quantitative","scale":{"type":"log","domain":[0.00306,4.85],"nice":false},
"axis":{"orient":"bottom","values":[0.004,0.005,0.006,0.007,0.008,0.009,0.01,0.02,0.03,0.04,0.05,0.06,0.07,0.08,0.09,0.1,0.2,0.3,0.4,0.5,0.6,0.7,0.8,0.9,1,2,3,4],"labelExpr":"datum.value==0.01?'10⁻²':datum.value==0.1?'10⁻¹':datum.value==1?'10⁰':''","tickSize":{"condition":{"test":"indexof([0.01,0.1,1],datum.value)>=0","value":5},"value":3},"labelPadding":3,"title":"J/J₀","titlePadding":8}},
"y":{"field":"y","type":"quantitative","scale":{"type":"log","domain":[1,60],"nice":false},
"axis":{"orient":"left","values":[1,2,3,4,5,6,7,8,9,10,20,30,40,50],"labelExpr":"datum.value==1?'10⁰':datum.value==10?'10¹':''","tickSize":{"condition":{"test":"indexof([1,10],datum.value)>=0","value":5},"value":3},"labelPadding":3,"title":"E/J⁽ᶻ⁺¹⁾","titlePadding":4}},
"color":{"field":"s","type":"nominal","scale":{"domain":["4.80T","5.00T","5.20T","5.40T","5.60T","5.80T","6.00T","6.20T","6.40T","6.60T"],"range":["#a030e0","#1030ff","#30c8ff","#40ee10","#c8f000","#ffaa00","#ff3c28","#ff0a0a","#ee2020","#900000"]},"legend":null}}},
{"data":{"name":"L"},"mark":{"type":"point","filled":true,"size":18,"opacity":1,"clip":true},
"encoding":{
"x":{"field":"x","type":"quantitative","axis":null},
"y":{"field":"y","type":"quantitative","axis":{"orient":"right","values":[1,2,3,4,5,6,7,8,9,10,20,30,40,50],"labels":false,"title":null,"tickSize":{"condition":{"test":"indexof([1,10],datum.value)>=0","value":-5},"value":-3}}},
"color":{"field":"s","type":"nominal","scale":{"domain":["4.80T","5.00T","5.20T","5.40T","5.60T","5.80T","6.00T","6.20T","6.40T","6.60T"],"range":["#a030e0","#1030ff","#30c8ff","#40ee10","#c8f000","#ffaa00","#ff3c28","#ff0a0a","#ee2020","#900000"]},"legend":null},
"shape":{"field":"s","type":"nominal","scale":{"domain":["4.80T","5.00T","5.20T","5.40T","5.60T","5.80T","6.00T","6.20T","6.40T","6.60T"],"range":["square","circle","triangle-up","triangle-down","diamond","triangle-left","triangle-right","circle","M0,-1L0.235,-0.324L0.951,-0.309L0.38,0.124L0.588,0.809L0,0.4L-0.588,0.809L-0.38,0.124L-0.951,-0.309L-0.235,-0.324Z","circle"]},"legend":null}}},
{"data":{"values":[]},"mark":{"type":"point","filled":true,"opacity":1,"strokeWidth":1},
"encoding":{
"color":{"field":"s","type":"nominal","title":null,"scale":{"domain":["4.80T","5.00T","5.20T","5.40T","5.60T","5.80T","6.00T","6.20T","6.40T","6.60T"],"range":["#a030e0","#1030ff","#30c8ff","#40ee10","#c8f000","#ffaa00","#ff3c28","#ff0a0a","#ee2020","#900000"]}},
"stroke":{"field":"s","type":"nominal","title":null,"scale":{"domain":["4.80T","5.00T","5.20T","5.40T","5.60T","5.80T","6.00T","6.20T","6.40T","6.60T"],"range":["#c890f0","#7890ff","#90e0ff","#a0f890","#e4f880","#ffd480","#ff9c90","#ff8080","#f09090","#c87070"]}},
"shape":{"field":"s","type":"nominal","title":null,"scale":{"domain":["4.80T","5.00T","5.20T","5.40T","5.60T","5.80T","6.00T","6.20T","6.40T","6.60T"],"range":["M-2.5,0H2.5M-0.45,-0.45H0.45V0.45H-0.45Z","M-2.5,0H2.5M-0.5,0A0.5,0.5,0,1,1,0.5,0A0.5,0.5,0,1,1,-0.5,0Z","M-2.5,0H2.5M0,-0.55L0.5,0.4H-0.5Z","M-2.5,0H2.5M0,0.55L0.5,-0.4H-0.5Z","M-2.5,0H2.5M0,-0.6L0.6,0L0,0.6L-0.6,0Z","M-2.5,0H2.5M-0.55,0L0.4,-0.5V0.5Z","M-2.5,0H2.5M0.55,0L-0.4,-0.5V0.5Z","M-2.5,0H2.5M-0.5,0A0.5,0.5,0,1,1,0.5,0A0.5,0.5,0,1,1,-0.5,0Z","M-2.5,0H2.5M0,-0.6L0.14,-0.19L0.57,-0.19L0.23,0.07L0.35,0.49L0,0.24L-0.35,0.49L-0.23,0.07L-0.57,-0.19L-0.14,-0.19Z","M-2.5,0H2.5M-0.55,0A0.55,0.55,0,1,1,0.55,0A0.55,0.55,0,1,1,-0.55,0Z"]}}}},
{"data":{"name":"LT"},"mark":{"type":"text","align":"left","baseline":"middle","fontSize":13,"color":"#000"},
"encoding":{"x":{"field":"x","type":"quantitative","axis":null},"y":{"field":"y","type":"quantitative","axis":null},"text":{"field":"t"}}}
],
"resolve":{"scale":{"color":"independent","shape":"independent","stroke":"independent"},"axis":{"x":"independent","y":"independent"}}},
{"width":168,"height":277,
"layer":[
{"data":{"name":"R"},"mark":{"type":"line","strokeWidth":0.9,"opacity":0.8,"clip":true},
"encoding":{
"x":{"field":"x","type":"quantitative","scale":{"type":"log","domain":[0.00485,3.68],"nice":false},
"axis":{"orient":"bottom","values":[0.005,0.006,0.007,0.008,0.009,0.01,0.02,0.03,0.04,0.05,0.06,0.07,0.08,0.09,0.1,0.2,0.3,0.4,0.5,0.6,0.7,0.8,0.9,1,2,3],"labelExpr":"datum.value==0.01?'10⁻²':datum.value==0.1?'10⁻¹':datum.value==1?'10⁰':''","tickSize":{"condition":{"test":"indexof([0.01,0.1,1],datum.value)>=0","value":5},"value":3},"labelPadding":3,"title":"J/J₀","titlePadding":8}},
"y":{"field":"y","type":"quantitative","scale":{"type":"log","domain":[1,80],"nice":false},
"axis":{"orient":"left","values":[1,2,3,4,5,6,7,8,9,10,20,30,40,50,60,70],"labelExpr":"datum.value==1?'10⁰':datum.value==10?'10¹':''","tickSize":{"condition":{"test":"indexof([1,10],datum.value)>=0","value":5},"value":3},"labelPadding":3,"title":null}},
"color":{"field":"s","type":"nominal","scale":{"domain":["2.80T","3.00T","3.10T","3.20T","3.30T","3.40T","3.50T","3.60T","3.70T","3.80T"],"range":["#a030e0","#1030ff","#30c8ff","#40ee10","#c8f000","#ffaa00","#ff3c28","#ff0a0a","#ee2020","#900000"]},"legend":null}}},
{"data":{"name":"R"},"mark":{"type":"point","filled":true,"size":18,"opacity":1,"clip":true},
"encoding":{
"x":{"field":"x","type":"quantitative","axis":null},
"y":{"field":"y","type":"quantitative","axis":{"orient":"right","values":[1,2,3,4,5,6,7,8,9,10,20,30,40,50,60,70],"labels":false,"title":null,"tickSize":{"condition":{"test":"indexof([1,10],datum.value)>=0","value":-5},"value":-3}}},
"color":{"field":"s","type":"nominal","scale":{"domain":["2.80T","3.00T","3.10T","3.20T","3.30T","3.40T","3.50T","3.60T","3.70T","3.80T"],"range":["#a030e0","#1030ff","#30c8ff","#40ee10","#c8f000","#ffaa00","#ff3c28","#ff0a0a","#ee2020","#900000"]},"legend":null},
"shape":{"field":"s","type":"nominal","scale":{"domain":["2.80T","3.00T","3.10T","3.20T","3.30T","3.40T","3.50T","3.60T","3.70T","3.80T"],"range":["square","circle","triangle-up","triangle-down","diamond","triangle-left","triangle-right","circle","M0,-1L0.235,-0.324L0.951,-0.309L0.38,0.124L0.588,0.809L0,0.4L-0.588,0.809L-0.38,0.124L-0.951,-0.309L-0.235,-0.324Z","circle"]},"legend":null}}},
{"data":{"values":[]},"mark":{"type":"point","filled":true,"opacity":1,"strokeWidth":1},
"encoding":{
"color":{"field":"s","type":"nominal","title":null,"scale":{"domain":["2.80T","3.00T","3.10T","3.20T","3.30T","3.40T","3.50T","3.60T","3.70T","3.80T"],"range":["#a030e0","#1030ff","#30c8ff","#40ee10","#c8f000","#ffaa00","#ff3c28","#ff0a0a","#ee2020","#900000"]}},
"stroke":{"field":"s","type":"nominal","title":null,"scale":{"domain":["2.80T","3.00T","3.10T","3.20T","3.30T","3.40T","3.50T","3.60T","3.70T","3.80T"],"range":["#c890f0","#7890ff","#90e0ff","#a0f890","#e4f880","#ffd480","#ff9c90","#ff8080","#f09090","#c87070"]}},
"shape":{"field":"s","type":"nominal","title":null,"scale":{"domain":["2.80T","3.00T","3.10T","3.20T","3.30T","3.40T","3.50T","3.60T","3.70T","3.80T"],"range":["M-2.5,0H2.5M-0.45,-0.45H0.45V0.45H-0.45Z","M-2.5,0H2.5M-0.5,0A0.5,0.5,0,1,1,0.5,0A0.5,0.5,0,1,1,-0.5,0Z","M-2.5,0H2.5M0,-0.55L0.5,0.4H-0.5Z","M-2.5,0H2.5M0,0.55L0.5,-0.4H-0.5Z","M-2.5,0H2.5M0,-0.6L0.6,0L0,0.6L-0.6,0Z","M-2.5,0H2.5M-0.55,0L0.4,-0.5V0.5Z","M-2.5,0H2.5M0.55,0L-0.4,-0.5V0.5Z","M-2.5,0H2.5M-0.5,0A0.5,0.5,0,1,1,0.5,0A0.5,0.5,0,1,1,-0.5,0Z","M-2.5,0H2.5M0,-0.6L0.14,-0.19L0.57,-0.19L0.23,0.07L0.35,0.49L0,0.24L-0.35,0.49L-0.23,0.07L-0.57,-0.19L-0.14,-0.19Z","M-2.5,0H2.5M-0.55,0A0.55,0.55,0,1,1,0.55,0A0.55,0.55,0,1,1,-0.55,0Z"]}}}},
{"data":{"name":"RT"},"mark":{"type":"text","align":"left","baseline":"middle","fontSize":13,"color":"#000"},
"encoding":{"x":{"field":"x","type":"quantitative","axis":null},"y":{"field":"y","type":"quantitative","axis":null},"text":{"field":"t"}}}
],
"resolve":{"scale":{"color":"independent","shape":"independent","stroke":"independent"},"axis":{"x":"independent","y":"independent"}}}
]}
